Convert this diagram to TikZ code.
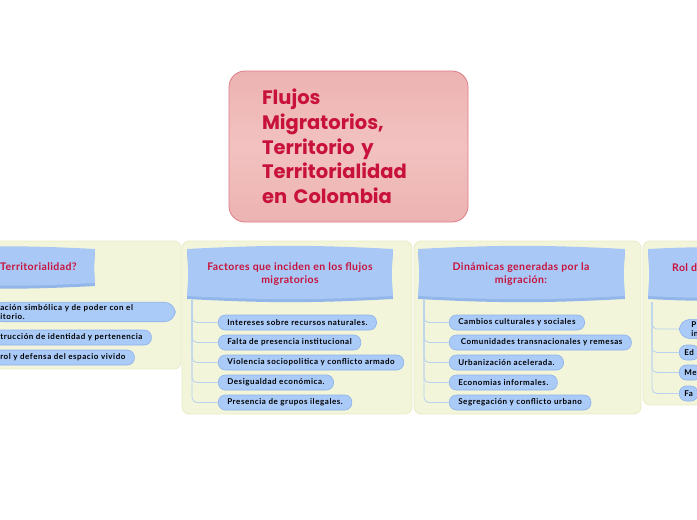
\documentclass[tikz,border=0pt]{standalone}
\usepackage{fontspec}
\newfontfamily\rootfont{Poppins}
\newfontfamily\hdrfont[LetterSpace=4]{Lato}
\newfontfamily\itemfont[LetterSpace=7]{Lato}

\definecolor{panelbg}{HTML}{F3F5DA}
\definecolor{paneledge}{HTML}{EAECC8}
\definecolor{rootfill}{HTML}{F2C2C0}
\definecolor{rootdark}{HTML}{ECB3B2}
\definecolor{rootedge}{HTML}{DD7C86}
\definecolor{titlered}{HTML}{C8123C}
\definecolor{hdrblue}{HTML}{A9C8F6}
\definecolor{hdrshade}{HTML}{93B6EA}
\definecolor{itemblue}{HTML}{AACAF8}
\definecolor{itemedge}{HTML}{8DB2EA}
\definecolor{linkblue}{HTML}{B7D1EF}

% cushion shaped header: x1 y1 x2 y2
\newcommand{\hdrbox}[4]{%
  \fill[hdrshade] (#1,#2+3) to[bend left=3] (#3,#2+3) to[bend right=5] (#3,#4+3)
    to[bend left=3] (#1,#4+3) to[bend right=5] (#1,#2+3);
  \fill[hdrblue] (#1,#2) to[bend left=3] (#3,#2) to[bend right=5] (#3,#4)
    to[bend left=3] (#1,#4) to[bend right=5] (#1,#2);
}

\begin{document}
\begin{tikzpicture}[x=1pt, y=-1pt,
  panel/.style={fill=panelbg, draw=paneledge, line width=0.8pt, rounded corners=7pt},
  root/.style={draw=rootedge, line width=0.8pt, rounded corners=16pt,
    minimum width=239pt, minimum height=151pt, text width=173pt, inner xsep=33pt,
    top color=rootdark, bottom color=rootdark, middle color=rootfill,
    align=left, text=titlered, font=\rootfont\bfseries\fontsize{19.5}{24.7}\selectfont},
  hdrtext/.style={text=titlered, align=center, inner sep=0pt,
    font=\hdrfont\bfseries\fontsize{10.5}{13}\selectfont},
  item/.style={anchor=west, fill=itemblue, draw=itemedge, line width=0.6pt,
    rounded corners=7pt, minimum height=15pt, inner xsep=9pt, inner ysep=2pt,
    font=\itemfont\bfseries\fontsize{8}{9.5}\selectfont},
  link/.style={draw=linkblue, line width=0.8pt, rounded corners=5pt}]

  \useasboundingbox (0,0) rectangle (697,520);
  \clip (0,0) rectangle (697,520);
  \fill[white] (0,0) rectangle (697,520);

  % panels
  \draw[panel] (-20,241) rectangle (181,369);
  \draw[panel] (182,241) rectangle (412,414);
  \draw[panel] (414,241) rectangle (641,414);
  \draw[panel] (643,241) rectangle (730,405);

  % central topic
  \node[root] (root) at (348.5,146.5)
    {Flujos\\Migratorios,\\Territorio y\\Territorialidad\\en Colombia};

  % headers
  \hdrbox{-80}{249}{95}{283}
  \node[hdrtext, anchor=west] (hdrterr) at (0,267) {Territorialidad?};

  \hdrbox{187}{249}{393}{296}
  \node[hdrtext] (hdrfact) at (290,274.5) {Factores que inciden en los flujos\\migratorios};

  \hdrbox{418}{249}{625}{296}
  \node[hdrtext] (hdrdin) at (521,274.5) {Dinámicas generadas por la\\migración:};

  \hdrbox{648}{249}{760}{296}
  \node[hdrtext, anchor=west] (hdrrol) at (672,268) {Rol d};

  % territorialidad
  \node[item, text width=166pt, align=left, rounded corners=11pt] (terr1) at (-9,312)
    {ación simbólica y de poder con el\\itorio.};
  \node[item] (terr2) at (-9,337.5) {trucción de identidad y pertenencia};
  \node[item] (terr3) at (-9,357.5) {rol y defensa del espacio vivido};

  % factores
  \coordinate (trunkfact) at (192,300);
  \foreach \y/\t [count=\i] in {322.5/{Intereses sobre recursos naturales.},
      342.5/{Falta de presencia institucional},
      362.5/{Violencia sociopolitica y conflicto armado},
      382.5/{Desigualdad económica.},
      402.5/{Presencia de grupos ilegales.}}
  {
    \node[item] (fact\i) at (218,\y) {\t};
    \draw[link] (trunkfact) |- (fact\i.west);
  }

  % dinamicas
  \coordinate (trunkdin) at (424,300);
  \foreach \y/\t [count=\i] in {322.5/{Cambios culturales y sociales},
      342.5/{\ Comunidades transnacionales y remesas},
      362.5/{Urbanización acelerada.},
      382.5/{Economias informales.},
      402.5/{Segregación y conflicto urbano}}
  {
    \node[item] (din\i) at (449,\y) {\t};
    \draw[link] (trunkdin) |- (din\i.west);
  }

  % rol
  \coordinate (trunkrol) at (652,302);
  \node[item, align=left, inner xsep=12pt, rounded corners=11pt] (rol1) at (679,329) {P\\in};
  \foreach \y/\t [count=\i from 2] in {352.5/Ed, 372.5/Me, 393.5/Fa}
  {
    \node[item, inner xsep=5pt] (rol\i) at (679,\y) {\t};
  }
  \foreach \i in {1,...,4}
  {
    \draw[link] (trunkrol) |- (rol\i.west);
  }
\end{tikzpicture}
\end{document}
